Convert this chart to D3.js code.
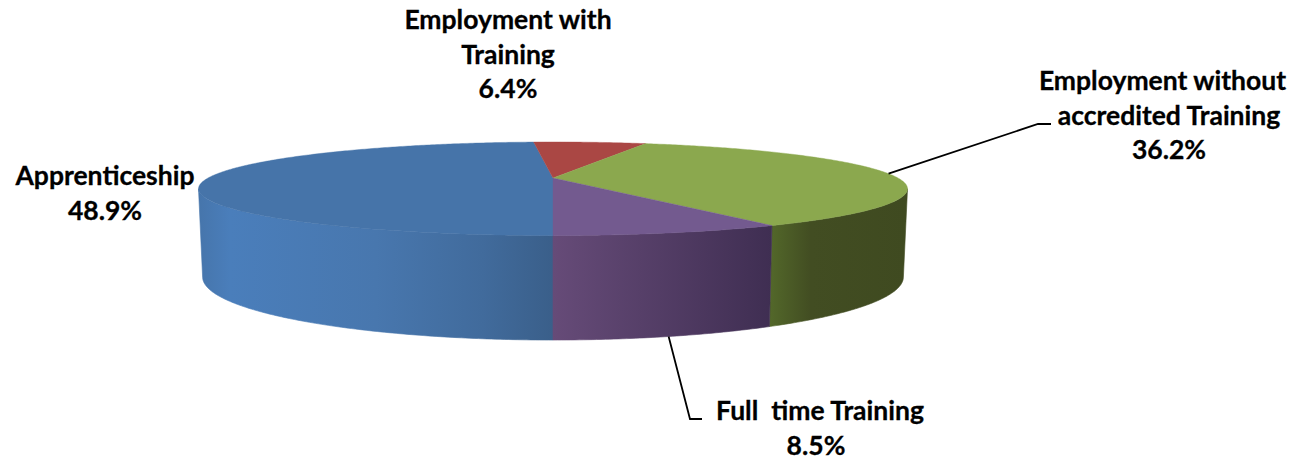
<!DOCTYPE html>
<html>
<head>
<meta charset="utf-8">
<script src="https://cdn.jsdelivr.net/npm/d3@7"></script>
<style>
    html, body { margin: 0; padding: 0; background: #fff; }
    svg { display: block; }
    .label { font-family: Lato, "Open Sans", sans-serif; font-weight: 700; font-size: 26.5px; fill: #000; stroke: #000; stroke-width: 0.3; text-anchor: middle; white-space: pre; }
    .leader { fill: none; stroke: #000; stroke-width: 1.8; }
</style>
</head>
<body>
<svg></svg>
<script>
var categories = ["Apprenticeship", "Employment with Training", "Employment without accredited Training", "Full time Training"];
var shares = [48.9, 6.4, 36.2, 8.5];
var shareLabels = ["48.9%", "6.4%", "36.2%", "8.5%"];

var screen = { width: 1305, height: 464 };

//the top and bottom faces of the disc, both seen in perspective
//depth is how much nearer the front edge is than the back
var depth = 0.23;
var topFace = { cx: 553, cy: 178, rx: 345, ry: 44.3 };
var bottomFace = { cx: 553, cy: 262.5, rx: 341, ry: 59.7 };

//the side wall is only seen between these two angles (front of the disc)
var sideStart = Math.acos(-depth);
var sideEnd = 2 * Math.PI - Math.acos(-depth);

var faceColors = ["#4674a9", "#aa4744", "#8ba84e", "#735a8f"];
var sideStops = [
    [[0, "#4675ab"], [0.09, "#4a7ebb"], [0.5, "#4877ae"], [0.8, "#416b9c"], [1, "#3a5f8a"]],
    [],
    [[0, "#53682a"], [0.3, "#424d22"], [1, "#3f4a20"]],
    [[0, "#664b78"], [1, "#3f2e52"]]
];

//line breaks and places of the data labels, shift moves the first line only
var labelLayout = [
    { lines: ["Apprenticeship"], x: 105, y: 185, shift: 0 },
    { lines: ["Employment with", "Training"], x: 508, y: 29, shift: 0 },
    { lines: ["Employment without", "accredited Training"], x: 1169, y: 90, shift: -6.5 },
    { lines: ["Full  time Training"], x: 816, y: 420, shift: 4 }
];
var lineHeight = 34.5;

//where the leader lines go after leaving the slice, null is no leader
var leaders = [
    null,
    null,
    { face: topFace, points: [[1038, 124], [1051, 124]] },
    { face: bottomFace, points: [[690, 419], [702, 419]] }
];

//takes a pie angle (clockwise from 12 o'clock) to the screen
var project = function (face, angle, radius) {
    var u = Math.sin(angle) * radius;
    var v = -Math.cos(angle) * radius;
    var w = 1 - depth * v;
    return [face.cx + face.rx * u / w, face.cy + face.ry * v / w];
}

var angleSteps = function (start, end) {
    var n = Math.max(2, Math.ceil((end - start) / 0.01));
    return d3.range(n + 1).map(function (i) {
        return start + (end - start) * i / n;
    });
}

var drawSide = function (svg, slice, i) {
    var from = Math.max(slice.startAngle, sideStart);
    var to = Math.min(slice.endAngle, sideEnd);
    var wrapFrom = Math.max(slice.startAngle - 2 * Math.PI, sideStart);
    var wrapTo = Math.min(slice.endAngle - 2 * Math.PI, sideEnd);
    if (wrapTo > wrapFrom) {
        from = wrapFrom;
        to = wrapTo;
    }
    if (to <= from || sideStops[i].length == 0) {
        return;
    }

    var upper = angleSteps(from, to).map(function (a) { return project(topFace, a, 1); });
    var lower = angleSteps(from, to).reverse().map(function (a) { return project(bottomFace, a, 1); });
    var outline = upper.concat(lower);
    var extent = d3.extent(outline, function (p) { return p[0]; });

    var gradient = svg.select("defs")
        .append("linearGradient")
        .attr("id", "side" + i)
        .attr("gradientUnits", "userSpaceOnUse")
        .attr("x1", extent[0])
        .attr("x2", extent[1])
        .attr("y1", 0)
        .attr("y2", 0);

    gradient.selectAll("stop")
        .data(sideStops[i])
        .enter()
        .append("stop")
        .attr("offset", function (s) { return s[0]; })
        .attr("stop-color", function (s) { return s[1]; });

    //thin stroke in the same gradient closes the seams with the top face
    svg.append("path")
        .attr("d", d3.line()(outline) + "Z")
        .attr("fill", "url(#side" + i + ")")
        .attr("stroke", "url(#side" + i + ")")
        .attr("stroke-width", 0.6);
}

var drawFace = function (svg, slice, i) {
    var rim = angleSteps(slice.startAngle, slice.endAngle).map(function (a) {
        return project(topFace, a, 1);
    });
    svg.append("path")
        .attr("d", d3.line()([project(topFace, 0, 0)].concat(rim)) + "Z")
        .attr("fill", faceColors[i])
        .attr("stroke", faceColors[i])
        .attr("stroke-width", 0.4);
}

var drawLeader = function (svg, slice, i) {
    var leader = leaders[i];
    if (!leader) {
        return;
    }
    var mid = (slice.startAngle + slice.endAngle) / 2;
    svg.append("path")
        .classed("leader", true)
        .attr("d", d3.line()([project(leader.face, mid, 1)].concat(leader.points)));
}

var drawLabel = function (svg, i) {
    var layout = labelLayout[i];
    var text = svg.append("text")
        .classed("label", true);
    layout.lines.concat(shareLabels[i]).forEach(function (line, n) {
        text.append("tspan")
            .attr("x", layout.x + (n == 0 ? layout.shift : 0))
            .attr("y", layout.y + n * lineHeight)
            .text(line);
    });
}

var initGraph = function () {
    var svg = d3.select("svg")
        .attr("width", screen.width)
        .attr("height", screen.height);

    svg.append("defs");

    //starts at 6 o'clock and goes clockwise, like the original
    var slices = d3.pie()
        .sort(null)
        .startAngle(Math.PI)
        .endAngle(3 * Math.PI)(shares);

    slices.forEach(function (slice, i) { drawSide(svg, slice, i); });
    slices.forEach(function (slice, i) { drawFace(svg, slice, i); });
    slices.forEach(function (slice, i) { drawLeader(svg, slice, i); });
    categories.forEach(function (name, i) { drawLabel(svg, i); });
}

initGraph();
</script>
</body>
</html>
